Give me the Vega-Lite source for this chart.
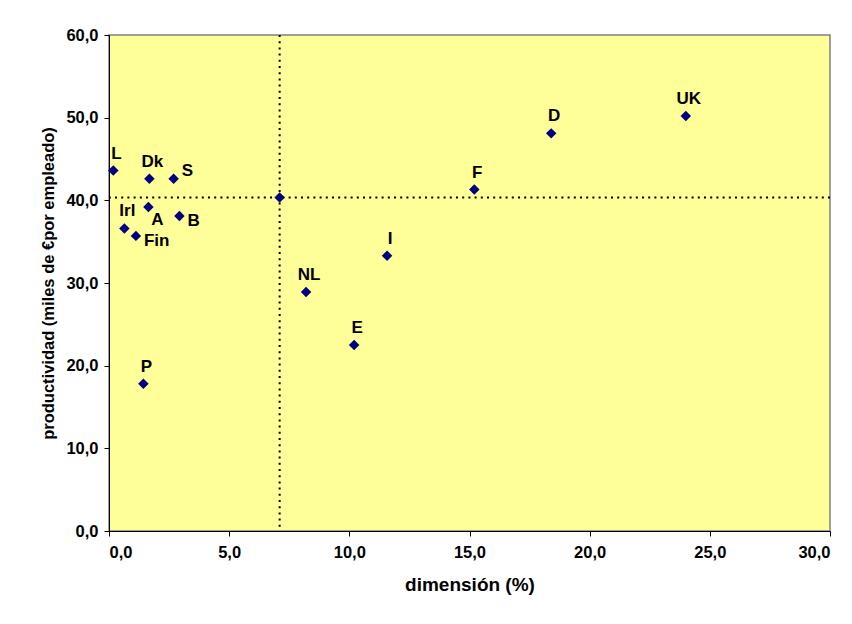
{
  "$schema": "https://vega.github.io/schema/vega-lite/v6.json",
  "width": 721,
  "height": 496,
  "autosize": {"type": "none"},
  "padding": {"left": 109, "top": 35, "right": 22, "bottom": 93},
  "background": "white",
  "config": {
    "font": "Liberation Sans",
    "view": {"fill": "#FFFF99", "stroke": "#808080", "strokeWidth": 1.5},
    "axis": {
      "grid": false,
      "domainColor": "black",
      "domainWidth": 1,
      "tickColor": "black",
      "tickSize": 5,
      "labelFont": "Liberation Sans",
      "labelFontSize": 16.5,
      "labelFontWeight": "bold",
      "labelColor": "black",
      "titleFont": "Liberation Sans",
      "titleFontWeight": "bold",
      "titleColor": "black",
      "labelExpr": "replace(format(datum.value, '.1f'), '.', ',')"
    },
    "axisX": {"labelPadding": 8, "titlePadding": 15, "titleFontSize": 19},
    "axisY": {"labelPadding": 6, "titlePadding": 9, "titleFontSize": 16.5}
  },
  "datasets": {
    "countries": [
      {"pais": "L", "dim": 0.18, "prod": 43.6},
      {"pais": "Dk", "dim": 1.68, "prod": 42.6},
      {"pais": "S", "dim": 2.69, "prod": 42.6},
      {"pais": "A", "dim": 1.64, "prod": 39.2},
      {"pais": "B", "dim": 2.93, "prod": 38.1},
      {"pais": "Irl", "dim": 0.64, "prod": 36.6},
      {"pais": "Fin", "dim": 1.12, "prod": 35.7},
      {"pais": "P", "dim": 1.43, "prod": 17.8},
      {"pais": "NL", "dim": 8.2, "prod": 28.9},
      {"pais": "E", "dim": 10.2, "prod": 22.5},
      {"pais": "I", "dim": 11.57, "prod": 33.3},
      {"pais": "F", "dim": 15.2, "prod": 41.3},
      {"pais": "D", "dim": 18.4, "prod": 48.1},
      {"pais": "UK", "dim": 24.0, "prod": 50.2}
    ],
    "media": [{"dim": 7.1, "prod": 40.35}]
  },
  "encoding": {
    "x": {"field": "dim", "type": "quantitative", "scale": {"domain": [0, 30], "nice": false}, "title": "dimensión (%)", "axis": {"values": [0, 5, 10, 15, 20, 25, 30]}},
    "y": {"field": "prod", "type": "quantitative", "scale": {"domain": [0, 60], "nice": false}, "title": "productividad (miles de €por empleado)", "axis": {"values": [0, 10, 20, 30, 40, 50, 60]}}
  },
  "layer": [
    {
      "data": {"name": "media"},
      "mark": {"type": "rule", "color": "black", "strokeWidth": 2, "strokeDash": [2, 4.2]},
      "encoding": {"y": null}
    },
    {
      "data": {"name": "media"},
      "mark": {"type": "rule", "color": "black", "strokeWidth": 2, "strokeDash": [2, 4.2]},
      "encoding": {"x": null}
    },
    {
      "data": {"name": "media"},
      "mark": {"type": "point", "shape": "diamond", "filled": true, "size": 110, "color": "#000080", "opacity": 1}
    },
    {
      "data": {"name": "countries"},
      "mark": {"type": "point", "shape": "diamond", "filled": true, "size": 110, "color": "#000080", "opacity": 1}
    },
    {
      "data": {"name": "countries"},
      "transform": [{"filter": {"not": {"field": "pais", "oneOf": ["S", "B", "Fin", "A"]}}}],
      "mark": {"type": "text", "font": "Liberation Sans", "fontSize": 17, "fontWeight": "bold", "color": "black", "align": "center", "baseline": "middle", "dx": 3, "dy": -17},
      "encoding": {"text": {"field": "pais"}}
    },
    {
      "data": {"name": "countries"},
      "transform": [{"filter": {"field": "pais", "equal": "S"}}],
      "mark": {"type": "text", "font": "Liberation Sans", "fontSize": 17, "fontWeight": "bold", "color": "black", "align": "left", "baseline": "middle", "dx": 8, "dy": -8},
      "encoding": {"text": {"field": "pais"}}
    },
    {
      "data": {"name": "countries"},
      "transform": [{"filter": {"field": "pais", "oneOf": ["B", "Fin"]}}],
      "mark": {"type": "text", "font": "Liberation Sans", "fontSize": 17, "fontWeight": "bold", "color": "black", "align": "left", "baseline": "middle", "dx": 8, "dy": 5},
      "encoding": {"text": {"field": "pais"}}
    },
    {
      "data": {"name": "countries"},
      "transform": [{"filter": {"field": "pais", "equal": "A"}}],
      "mark": {"type": "text", "font": "Liberation Sans", "fontSize": 17, "fontWeight": "bold", "color": "black", "align": "center", "baseline": "middle", "dx": 9, "dy": 13},
      "encoding": {"text": {"field": "pais"}}
    }
  ]
}
